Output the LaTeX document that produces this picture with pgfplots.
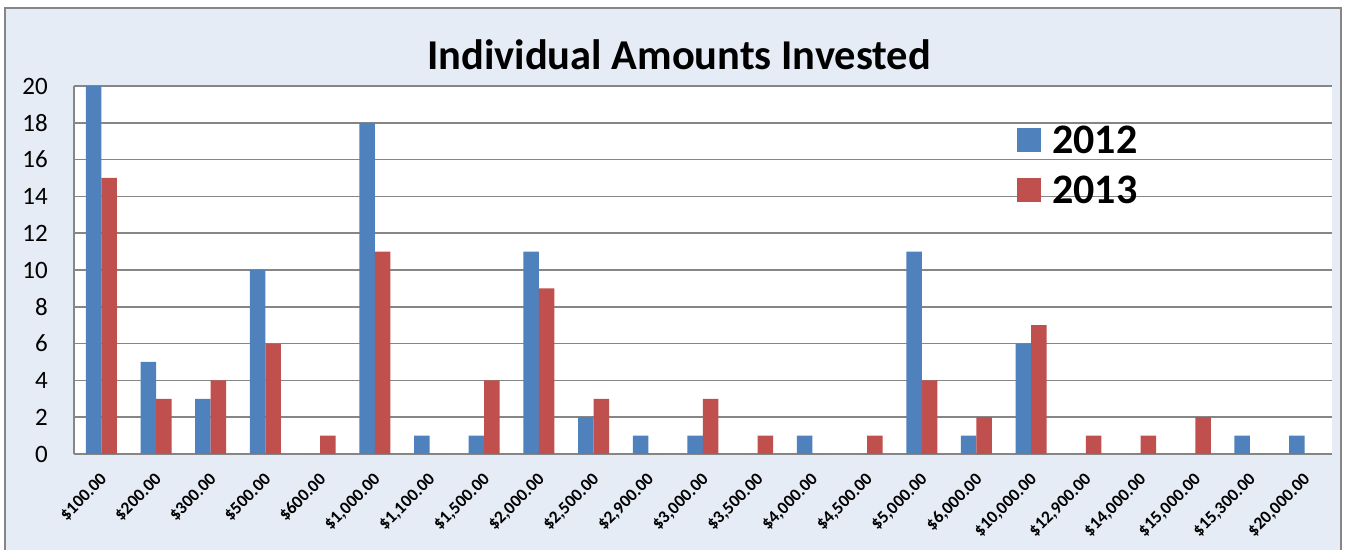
\documentclass[border=0pt]{standalone}
\usepackage{pgfplots}
\pgfplotsset{compat=1.18}
\usepackage{fontspec}
\setmainfont{Carlito}
\definecolor{bgblue}{RGB}{229,236,245}
\definecolor{gridgray}{RGB}{134,134,134}
\definecolor{bar12}{RGB}{79,129,189}
\definecolor{bar13}{RGB}{192,80,77}
\newcommand{\xf}{\fontsize{17.5bp}{19bp}\selectfont\bfseries}
\begin{document}
\begin{tikzpicture}
\path[use as bounding box] (0,0) rectangle (1349bp,550bp);
\fill[white] (0,0) rectangle (1349bp,550bp);
\filldraw[fill=bgblue, draw=gridgray, line width=1.5bp] (5bp,-5bp) rectangle (1341bp,542bp);
\node[font=\bfseries\fontsize{42.5bp}{46bp}\selectfont] at (679bp,495bp) {Individual Amounts Invested};
\begin{axis}[
  at={(74bp,96bp)}, anchor=south west,
  scale only axis, width=1258bp, height=368bp,
  ybar=0pt, bar width=15.5bp,
  xmin=-0.5, xmax=22.5, ymin=0, ymax=20,
  xtick={0,...,22}, ytick={0,2,...,20},
  major tick length=0pt,
  xticklabels={{\$100.00},{\$200.00},{\$300.00},{\$500.00},{\$600.00},{\$1,000.00},{\$1,100.00},{\$1,500.00},{\$2,000.00},{\$2,500.00},{\$2,900.00},{\$3,000.00},{\$3,500.00},{\$4,000.00},{\$4,500.00},{\$5,000.00},{\$6,000.00},{\$10,000.00},{\$12,900.00},{\$14,000.00},{\$15,000.00},{\$15,300.00},{\$20,000.00}},
  xticklabel style={font=\xf, xshift=-2bp, yshift=-18bp, rotate=45, anchor=north east, inner sep=0pt},
  yticklabel style={font=\fontsize{25bp}{27bp}\selectfont, inner sep=0pt, anchor=east},
  yticklabel shift=26bp,
  /pgf/number format/assume math mode=true,
  axis x line*=bottom, axis y line*=left,
  axis line style={gridgray, line width=1.5bp, -},
  ymajorgrids, grid style={gridgray, line width=1.5bp},
  axis background/.style={fill=white},
  legend style={at={(0.7496,0.891)}, anchor=north west, draw=none, fill=none,
    font=\bfseries\fontsize{42bp}{44bp}\selectfont, inner sep=0pt, row sep=22bp,
    nodes={inner sep=0pt, text depth=0pt}},
  legend cell align=left,
]
\addplot[fill=bar12, draw=none, legend image code/.code={\fill[bar12] (0bp,-12bp) rectangle (24bp,12bp); \path (35bp,0);}] coordinates {
(0,20) (1,5) (2,3) (3,10) (4,0) (5,18) (6,1) (7,1) (8,11) (9,2) (10,1) (11,1) (12,0) (13,1) (14,0) (15,11) (16,1) (17,6) (18,0) (19,0) (20,0) (21,1) (22,1)};
\addplot[fill=bar13, draw=none, legend image code/.code={\fill[bar13] (0bp,-12bp) rectangle (24bp,12bp); \path (35bp,0);}] coordinates {
(0,15) (1,3) (2,4) (3,6) (4,1) (5,11) (6,0) (7,4) (8,9) (9,3) (10,0) (11,3) (12,1) (13,0) (14,1) (15,4) (16,2) (17,7) (18,1) (19,1) (20,2) (21,0) (22,0)};
\legend{2012,2013}
\end{axis}
\end{tikzpicture}
\end{document}
